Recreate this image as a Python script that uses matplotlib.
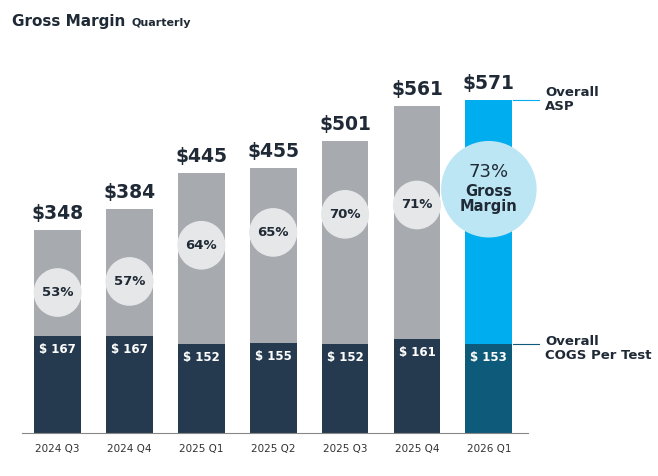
import matplotlib.pyplot as plt
from matplotlib.patches import Ellipse

quarters = ["2024 Q3", "2024 Q4", "2025 Q1", "2025 Q2", "2025 Q3", "2025 Q4", "2026 Q1"]
asp = [348, 384, 445, 455, 501, 561, 571]
cogs = [167, 167, 152, 155, 152, 161, 153]
margin = [53, 57, 64, 65, 70, 71, 73]
circle_y = [241, 260, 322, 344, 375, 391, 418]

fig = plt.figure(figsize=(6.58, 4.76), dpi=100)
ax = fig.add_axes([0.033, 0.09, 0.77, 0.70])
ax.set_xlim(-0.5, 6.55)
ax.set_ylim(0, 571)

x = list(range(len(quarters)))
grey = ["#a7abb0"] * 6 + ["#00aeef"]
dark = ["#263a4f"] * 6 + ["#0e5a7a"]
ax.bar(x, asp, width=0.65, color=grey)
ax.bar(x, cogs, width=0.65, color=dark)

for i in x:
    ax.text(i, asp[i] + 12, f"${asp[i]}", ha="center", va="bottom", fontsize=13.5, fontweight="bold", color="#1f2a36")
    ax.text(i, cogs[i] - 12, f"$ {cogs[i]}", ha="center", va="top", fontsize=8.5, fontweight="bold", color="white")
    if i < 6:
        ax.add_patch(Ellipse((i, circle_y[i]), 0.65, 81, color="#e6e7e8", zorder=3))
        ax.text(i, circle_y[i], f"{margin[i]}%", ha="center", va="center", fontsize=9.5, fontweight="bold", color="#1f2a36", zorder=4)
    else:
        ax.add_patch(Ellipse((i, circle_y[i]), 1.31, 163, color="#bde6f5", zorder=3, clip_on=False))
        ax.text(i, circle_y[i] + 30, f"{margin[i]}%", ha="center", va="center", fontsize=13, color="#1f2a36", zorder=4)
        ax.text(i, circle_y[i] - 16, "Gross\nMargin", ha="center", va="center", fontsize=10.5, fontweight="bold", color="#1f2a36", zorder=4, linespacing=1.0)

ax.plot([6.33, 6.7], [571, 571], color="#00aeef", lw=0.8, clip_on=False)
ax.plot([6.33, 6.7], [153, 153], color="#0e5a7a", lw=0.8, clip_on=False)
ax.text(6.78, 571, "Overall\nASP", ha="left", va="center", fontsize=9.5, fontweight="bold", color="#1f2a36", linespacing=1.1)
ax.text(6.78, 145, "Overall\nCOGS Per Test", ha="left", va="center", fontsize=9.5, fontweight="bold", color="#1f2a36", linespacing=1.1)

ax.set_xticks(x)
ax.set_xticklabels(quarters, fontsize=7.5, color="#333333")
ax.tick_params(axis="x", length=0, pad=8)
ax.set_yticks([])
for s in ["top", "right", "left"]:
    ax.spines[s].set_visible(False)
ax.spines["bottom"].set_color("#888888")

fig.text(0.018, 0.945, "Gross Margin", fontsize=11, fontweight="bold", color="#1f2a36")
fig.text(0.2, 0.945, "Quarterly", fontsize=8, fontweight="bold", color="#1f2a36")

fig.savefig("out.png")
